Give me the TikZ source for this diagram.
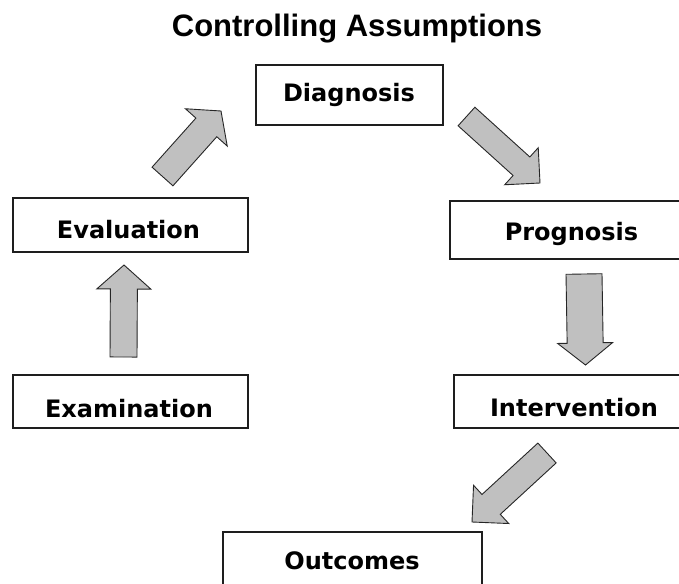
\documentclass[tikz,border=0pt]{standalone}
\usepackage{fontspec}
\newfontfamily\titlefont{Liberation Sans}
\newfontfamily\boxfont{DejaVu Sans}
\usetikzlibrary{calc}
\definecolor{arrowgray}{RGB}{192,192,192}
\definecolor{boxline}{RGB}{30,30,30}
\tikzset{
  box/.style={draw=boxline, line width=1.4pt, fill=white, rectangle, inner sep=0pt},
  lbl/.style={anchor=base, inner sep=0pt, font=\boxfont\bfseries\fontsize{24}{28}\selectfont},
  titlelbl/.style={anchor=base, inner sep=0pt, font=\titlefont\bfseries\fontsize{31}{36}\selectfont},
  fatarrow/.style={draw=black!85, line width=0.9pt, fill=arrowgray, line join=miter}
}
% tail, tip, half shaft, half head width, head length
\newcommand\blockarrow[5]{%
  \coordinate (#1-base) at ($(#2)!#5pt!(#1)$);
  \path[fatarrow] ($(#1)!#3pt!90:(#2)$) -- ($(#1-base)!#3pt!90:(#2)$) --
    ($(#1-base)!#4pt!90:(#2)$) -- (#2) -- ($(#1-base)!#4pt!-90:(#2)$) --
    ($(#1-base)!#3pt!-90:(#2)$) -- ($(#1)!#3pt!-90:(#2)$) -- cycle;
}
\begin{document}
\begin{tikzpicture}[x=1pt, y=-1pt]
\useasboundingbox (0,0) rectangle (679,583);
\clip (0,0) rectangle (679,583);

% title
\node[titlelbl] (title) at (357,37) {Controlling Assumptions};

% boxes
\node[box, minimum width=187pt, minimum height=60pt] (diag) at (349.5,95) {};
\node[box, minimum width=235pt, minimum height=54pt] (eval) at (130.5,225) {};
\node[box, minimum width=235pt, minimum height=53pt] (exam) at (130.5,401.5) {};
\node[box, minimum width=243pt, minimum height=58pt] (prog) at (571.5,230) {};
\node[box, minimum width=240pt, minimum height=53pt] (inter) at (574,401.5) {};
\node[box, minimum width=259pt, minimum height=60pt] (outc) at (352.5,562) {};

% labels
\node[lbl] (diagt) at (349,102) {Diagnosis};
\node[lbl] (evalt) at (128.5,238) {Evaluation};
\node[lbl] (examt) at (129,417) {Examination};
\node[lbl] (progt) at (571.5,240) {Prognosis};
\node[lbl] (intert) at (574,416) {Intervention};
\node[lbl] (outct) at (352,569) {Outcomes};

% block arrow end points
\coordinate (a1t) at (123.5,357);
\coordinate (a1h) at (124,265);
\coordinate (a2t) at (162.5,176.5);
\coordinate (a2h) at (221,111);
\coordinate (a3t) at (466.5,116.5);
\coordinate (a3h) at (540,183);
\coordinate (a4t) at (584,274);
\coordinate (a4h) at (585.5,365);
\coordinate (a5t) at (547,453);
\coordinate (a5h) at (472,522);

\blockarrow{a1t}{a1h}{13.5}{27}{24}
\blockarrow{a2t}{a2h}{14}{28}{22}
\blockarrow{a3t}{a3h}{12.5}{25}{25}
\blockarrow{a4t}{a4h}{18}{27.5}{22}
\blockarrow{a5t}{a5h}{13.5}{26}{26}
\end{tikzpicture}
\end{document}
